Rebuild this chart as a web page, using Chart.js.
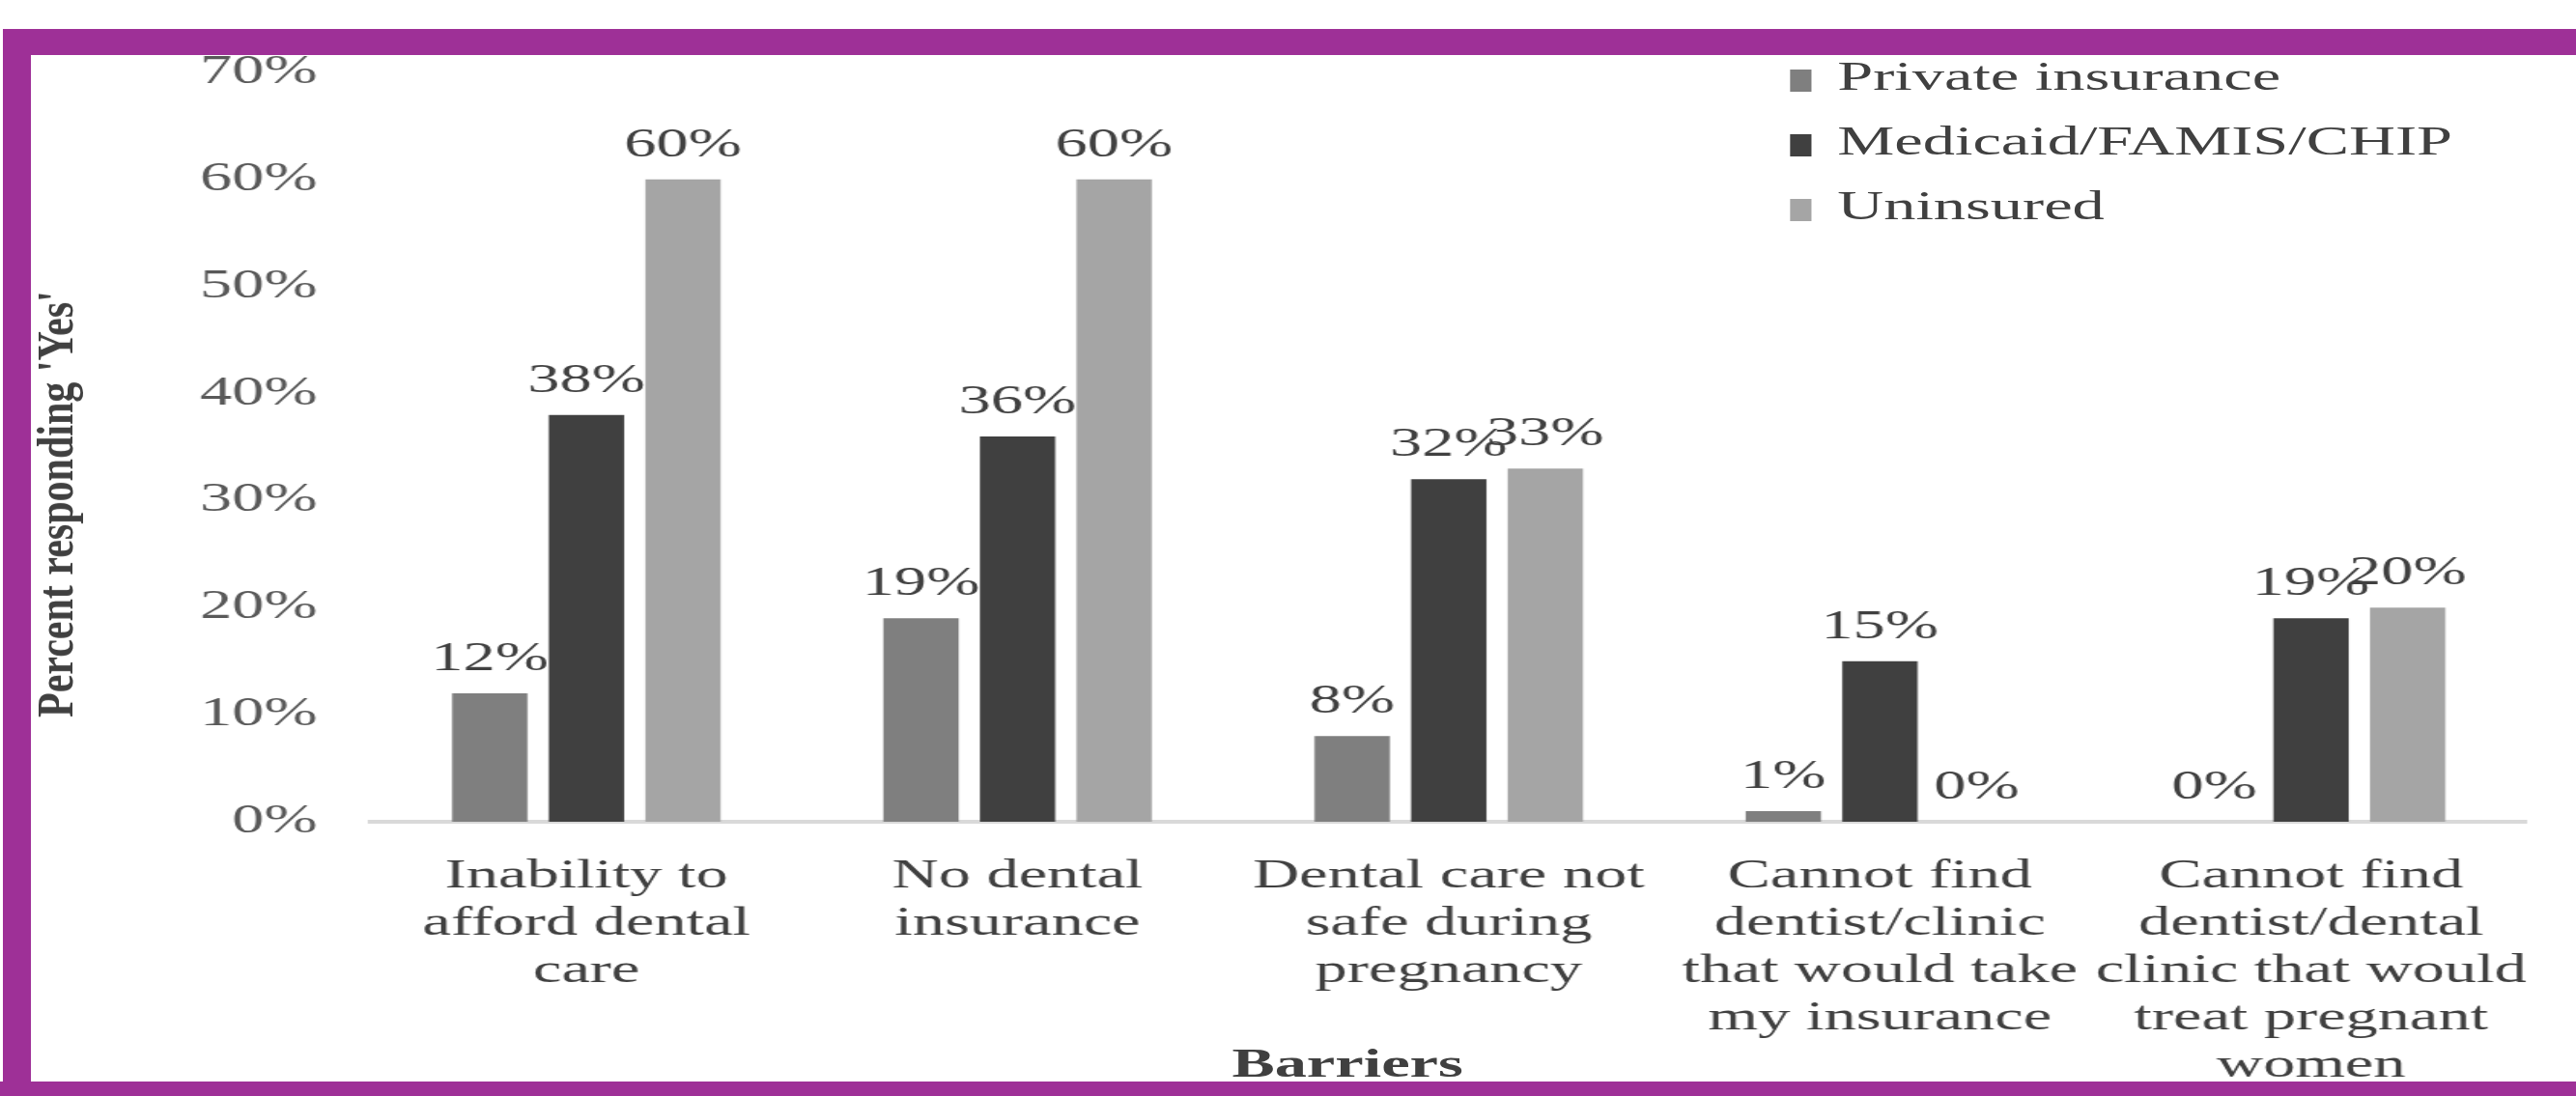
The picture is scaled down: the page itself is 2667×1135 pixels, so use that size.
<!DOCTYPE html>
<html>
<head>
<meta charset="utf-8">
<title>Barriers to dental care during pregnancy</title>
<script src="https://cdn.jsdelivr.net/npm/chart.js@4.4.1/dist/chart.umd.min.js"></script>
<style>
  html, body { margin: 0; padding: 0; background: #fff; overflow: hidden; }
  body { width: 2667px; height: 1135px; position: relative; font-family: "Liberation Serif", "Times New Roman", serif; }
  /* the source figure is stretched sideways, so the whole chart is drawn narrow and scaled */
  #stage { position: absolute; left: 0; top: 0; width: 1688px; height: 1165px; transform: scaleX(1.58); transform-origin: 0 0; }
  #chart { display: block; }
  #legend { position: absolute; left: 1173px; top: 46px; }
  #legend .item { height: 67px; line-height: 67px; font-size: 42px; color: #404040; white-space: nowrap; }
  #legend .swatch { display: inline-block; width: 14px; height: 23px; margin-right: 17px; vertical-align: -2px; }
  #xTitle { position: absolute; left: 883px; top: 1101px; transform: translate(-50%, -50%); font-weight: bold; font-size: 42px; color: #404040; white-space: nowrap; }
  #yTitle { position: absolute; left: 57px; top: 522px; transform: translate(-50%, -50%) rotate(-90deg) scaleY(1.25); font-weight: bold; font-size: 42px; color: #404040; white-space: nowrap; }
  .frame { position: absolute; background: #9e3097; z-index: 5; }
</style>
</head>
<body>
<div id="stage">
  <canvas id="chart" width="1688" height="1165"></canvas>
  <div id="legend"></div>
  <div id="xTitle">Barriers</div>
</div>
<div id="yTitle">Percent responding 'Yes'</div>
<div class="frame" style="left:4px; top:30px; width:2663px; height:27px;"></div>
<div class="frame" style="left:3px; top:30px; width:29px; height:1105px;"></div>
<div class="frame" style="left:0; top:1120px; width:2667px; height:15px;"></div>

<script>
const categories = [
    ["Inability to", "afford dental", "care"],
    ["No dental", "insurance"],
    ["Dental care not", "safe during", "pregnancy"],
    ["Cannot find", "dentist/clinic", "that would take", "my insurance"],
    ["Cannot find", "dentist/dental", "clinic that would", "treat pregnant", "women"]
];
const seriesNames = ["Private insurance", "Medicaid/FAMIS/CHIP", "Uninsured"];
const privateInsurance = [12, 19, 8, 1, 0];
const medicaid = [38, 36, 32, 15, 19];
const uninsured = [60, 60, 33, 0, 20];
const seriesColors = ["#7f7f7f", "#404040", "#a5a5a5"];
const yMax = 70;
const yStep = 10;

const fontFamily = '"Liberation Serif", "Times New Roman", serif';

// percent labels above every bar
const valueLabels = {
    id: 'valueLabels',
    afterDatasetsDraw(chart) {
        const ctx = chart.ctx;
        ctx.save();
        ctx.font = '42px ' + fontFamily;
        ctx.fillStyle = '#404040';
        ctx.textAlign = 'center';
        ctx.textBaseline = 'alphabetic';
        chart.data.datasets.forEach((ds, i) => {
            chart.getDatasetMeta(i).data.forEach((bar, j) => {
                ctx.fillText(ds.data[j] + '%', bar.x, bar.y - 24);
            });
        });
        ctx.restore();
    }
};

const series = [privateInsurance, medicaid, uninsured];

const chart = new Chart(document.getElementById('chart'), {
    type: 'bar',
    data: {
        labels: categories,
        datasets: series.map((values, i) => ({
            label: seriesNames[i],
            data: values,
            backgroundColor: seriesColors[i],
            borderWidth: 0,
            categoryPercentage: 0.672,
            barPercentage: 0.78
        }))
    },
    options: {
        responsive: false,
        animation: false,
        layout: {
            padding: { left: 96, right: 5, top: 75, bottom: 5 }
        },
        plugins: {
            legend: { display: false },
            tooltip: { enabled: false }
        },
        scales: {
            x: {
                grid: { display: false, drawTicks: false },
                border: { color: '#d9d9d9', width: 4 },
                ticks: {
                    color: '#404040',
                    font: { family: fontFamily, size: 42, lineHeight: 49 / 42 },
                    padding: 32,
                    maxRotation: 0,
                    minRotation: 0,
                    autoSkip: false
                }
            },
            y: {
                min: 0,
                max: yMax,
                grid: { display: false, drawTicks: false },
                border: { display: false },
                ticks: {
                    stepSize: yStep,
                    color: '#595959',
                    font: { family: fontFamily, size: 42 },
                    padding: 35,
                    callback: v => v + '%'
                }
            }
        }
    },
    plugins: [valueLabels]
});

// legend built from the same series lists
const legendDiv = document.getElementById('legend');
seriesNames.forEach((name, i) => {
    const item = document.createElement('div');
    item.className = 'item';
    const swatch = document.createElement('span');
    swatch.className = 'swatch';
    swatch.style.background = seriesColors[i];
    item.append(swatch);
    item.append(document.createTextNode(name));
    legendDiv.append(item);
});
</script>
</body>
</html>
